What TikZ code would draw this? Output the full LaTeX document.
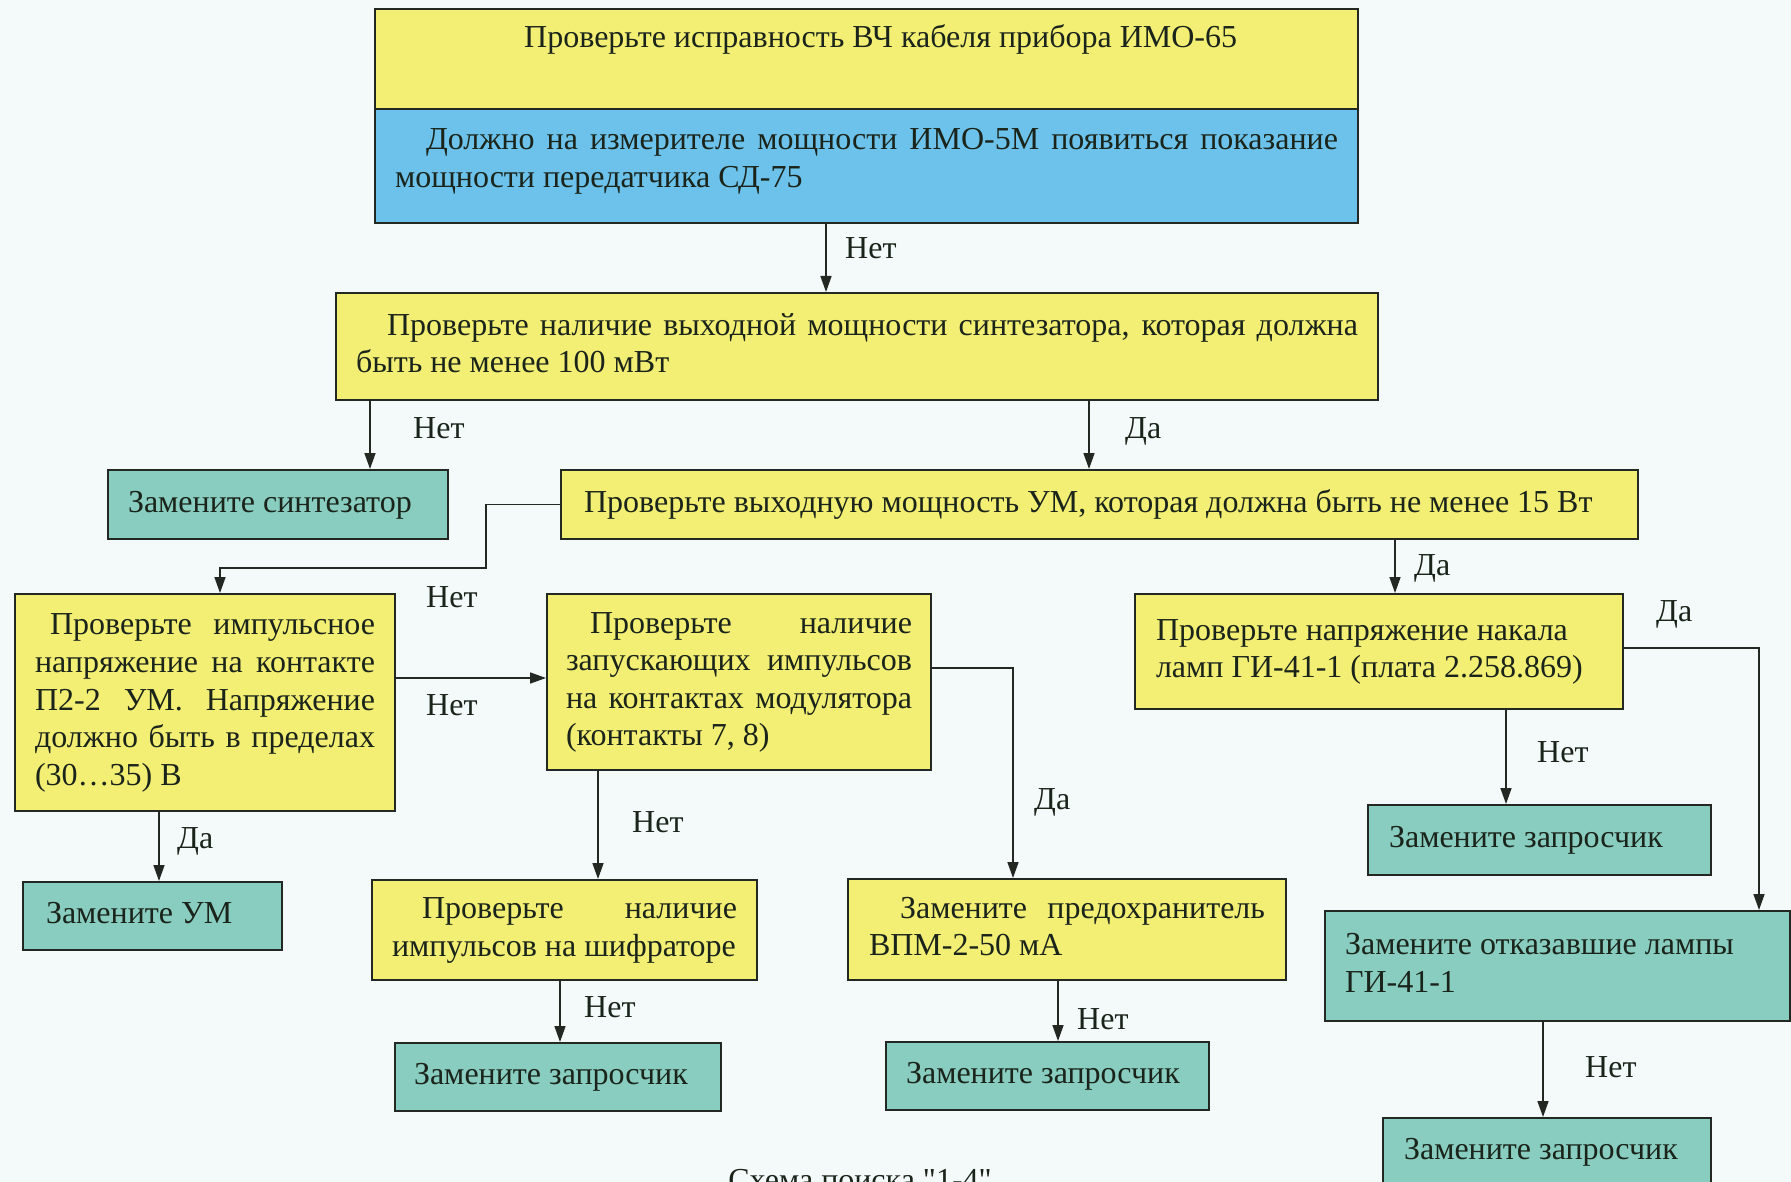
\documentclass[tikz,border=0pt]{standalone}
\usepackage{fontspec}
\setmainfont{Liberation Serif}[Ligatures=TeXOff]
\usetikzlibrary{arrows.meta}
\definecolor{cyel}{HTML}{F3EF74}
\definecolor{cblue}{HTML}{6CC2EA}
\definecolor{cteal}{HTML}{88CDBF}
\definecolor{cbg}{HTML}{F4FAFA}
\definecolor{cline}{HTML}{232823}
\definecolor{ctext}{HTML}{1A241A}
\newcommand{\fsz}{\fontsize{32}{37.6}\selectfont}
\newcommand{\jl}[2]{\makebox[#1][s]{\spaceskip=0pt\xspaceskip=0pt #2}}
\begin{document}
\begin{tikzpicture}[x=1pt,y=-1pt,
  box/.style={draw=cline, line width=2pt, anchor=north west, inner xsep=20pt, inner ysep=0pt,
    font=\fsz, text=ctext, align=left,
    execute at begin node={\spaceskip=0pt\xspaceskip=0pt\strut}, execute at end node=\strut},
  ybox/.style={box, fill=cyel},
  bbox/.style={box, fill=cblue},
  tbox/.style={box, fill=cteal},
  lbl/.style={font=\fsz, text=ctext, anchor=west, inner sep=0pt, execute at begin node=\strut},
  arr/.style={draw=cline, line width=1.6pt, -{Triangle[length=16pt,width=11pt]}}]
\useasboundingbox (0,0) rectangle (1791,1182);
\clip (0,0) rectangle (1791,1182);
\fill[cbg] (0,0) rectangle (1791,1182);

% boxes
\node[ybox, minimum width=983pt, minimum height=100pt] (t1) at (374,8) {};
\node[lbl] (t1text) at (524,40) {Проверьте исправность ВЧ кабеля прибора ИМО-65};
\node[bbox, text width=943pt, minimum height=114pt] (t2) at (374,108)
  {\jl{943pt}{\hspace{31pt}Должно на измерителе мощности ИМО-5М появиться показание}\\мощности передатчика СД-75\rule[-21pt]{0pt}{21pt}};
\node[ybox, text width=1002pt, minimum height=107pt] (syn) at (335,292)
  {\jl{1002pt}{\hspace{31pt}Проверьте наличие выходной мощности синтезатора, которая должна}\\быть не менее 100 мВт};
\node[tbox, text width=300pt, minimum height=69pt] (zs) at (107,469) {Замените синтезатор};
\node[ybox, text width=1041pt, inner xsep=18pt, minimum height=69pt] (um) at (560,469)
  {\mbox{\hspace*{5pt}Проверьте выходную мощность УМ, которая должна быть не менее 15 Вт}};
\node[ybox, text width=340pt, minimum height=217pt] (imp) at (14,593)
  {\jl{340pt}{\hspace{15pt}Проверьте импульсное}\\\jl{340pt}{напряжение на контакте}\\\jl{340pt}{П2-2 УМ. Напряжение}\\\jl{340pt}{должно быть в пределах}\\(30…35) В};
\node[ybox, text width=346pt, inner xsep=19pt, minimum height=176pt] (mod) at (546,593)
  {\jl{346pt}{\hspace{24pt}Проверьте наличие}\\\jl{346pt}{запускающих импульсов}\\\jl{346pt}{на контактах модулятора}\\(контакты 7, 8)};
\node[ybox, text width=446pt, inner xsep=21pt, minimum height=115pt] (lamp) at (1134,593)
  {Проверьте напряжение накала\\ламп ГИ-41-1 (плата 2.258.869)};
\node[tbox, text width=213pt, inner xsep=23pt, minimum height=68pt] (zum) at (22,881) {Замените УМ};
\node[ybox, text width=345pt, minimum height=100pt] (shf) at (371,879)
  {\jl{345pt}{\hspace{30pt}Проверьте наличие}\\\mbox{импульсов на шифраторе}};
\node[ybox, text width=396pt, inner xsep=21pt, minimum height=101pt] (fuse) at (847,878)
  {\jl{396pt}{\hspace{31pt}Замените предохранитель}\\ВПМ-2-50 мА};
\node[tbox, text width=301pt, inner xsep=21pt, minimum height=70pt] (zq3) at (1367,804) {Замените запросчик};
\node[tbox, text width=425pt, minimum height=110pt] (otk) at (1324,910) {Замените отказавшие лампы\\ГИ-41-1};
\node[tbox, text width=288pt, inner xsep=19pt, minimum height=68pt] (zq1) at (394,1042) {Замените запросчик};
\node[tbox, text width=283pt, minimum height=68pt] (zq2) at (885,1041) {Замените запросчик};
\node[tbox, text width=286pt, inner xsep=21pt, minimum height=68pt] (zq4) at (1382,1117) {Замените запросчик};
\node[font=\fsz, text=ctext, anchor=base, inner sep=0pt] (cap) at (860,1190) {Схема поиска "1-4"};

% connectors
\draw[arr] (t2.south -| 826,0) -- (syn.north -| 826,0);
\draw[arr] (syn.south -| 370,0) -- (zs.north -| 370,0);
\draw[arr] (syn.south -| 1089,0) -- (um.north -| 1089,0);
\draw[arr] (um.west) -- (486,0 |- um.west) -- (486,568) -- (220,568) -- (imp.north -| 220,0);
\draw[arr] (imp.east |- 0,678) -- (mod.west |- 0,678);
\draw[arr] (imp.south -| 159,0) -- (zum.north -| 159,0);
\draw[arr] (mod.south -| 598,0) -- (shf.north -| 598,0);
\draw[arr] (mod.east |- 0,668) -- (1013,668) -- (fuse.north -| 1013,0);
\draw[arr] (shf.south -| 560,0) -- (zq1.north -| 560,0);
\draw[arr] (fuse.south -| 1058,0) -- (zq2.north -| 1058,0);
\draw[arr] (um.south -| 1395,0) -- (lamp.north -| 1395,0);
\draw[arr] (lamp.east |- 0,648) -- (1759,648) -- (otk.north -| 1759,0);
\draw[arr] (lamp.south -| 1506,0) -- (zq3.north -| 1506,0);
\draw[arr] (otk.south -| 1543,0) -- (zq4.north -| 1543,0);

% labels
\node[lbl] (l1) at (845,251) {Нет};
\node[lbl] (l2) at (413,431) {Нет};
\node[lbl] (l3) at (1125,431) {Да};
\node[lbl] (l4) at (426,600) {Нет};
\node[lbl] (l5) at (426,708) {Нет};
\node[lbl] (l6) at (177,841) {Да};
\node[lbl] (l7) at (632,825) {Нет};
\node[lbl] (l8) at (1034,802) {Да};
\node[lbl] (l9) at (584,1010) {Нет};
\node[lbl] (l10) at (1077,1022) {Нет};
\node[lbl] (l11) at (1414,568) {Да};
\node[lbl] (l12) at (1656,614) {Да};
\node[lbl] (l13) at (1537,755) {Нет};
\node[lbl] (l14) at (1585,1070) {Нет};
\end{tikzpicture}
\end{document}
